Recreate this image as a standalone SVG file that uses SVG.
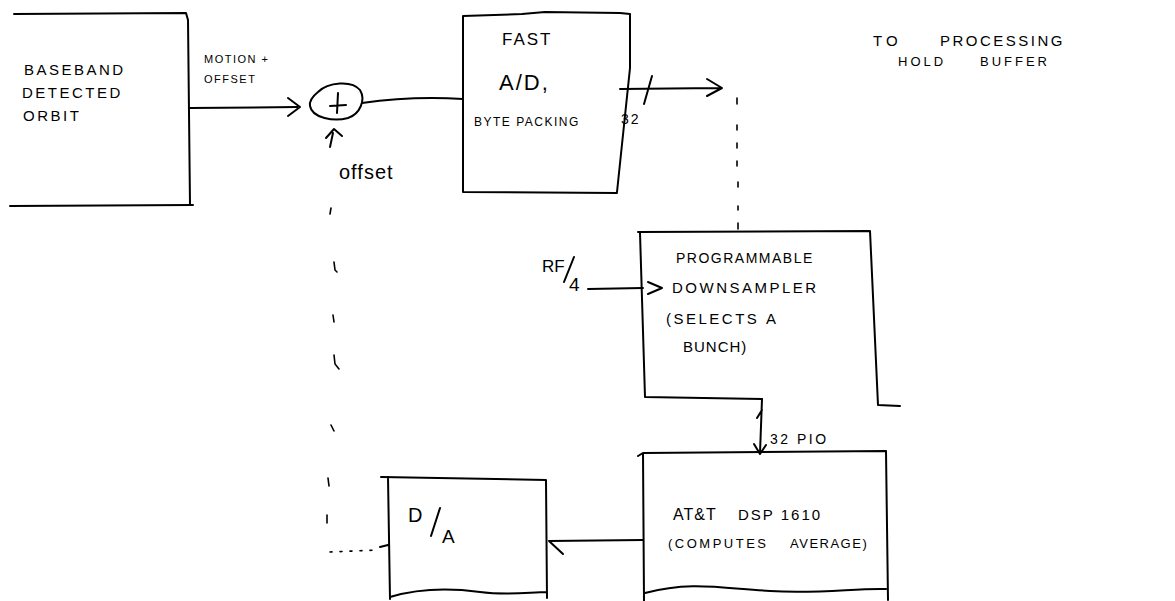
<svg xmlns="http://www.w3.org/2000/svg" width="1175" height="601" viewBox="0 0 1175 601">
<style>
.ln{fill:none;stroke:#000;stroke-width:2;stroke-linecap:round;stroke-linejoin:round}
.tk{fill:none;stroke:#000;stroke-width:1.6;stroke-linecap:round}
.t{font-family:"Liberation Sans",Arial,sans-serif;fill:#000;font-size:14px;letter-spacing:2px}
.s{font-size:11px;letter-spacing:1.5px}
</style>
<rect width="1175" height="601" fill="#fff"/>
<g id="baseband">
<path class="ln" d="M14,14 L186,13 L188,20 L190,205 M10,206 L193,205"/>
<text class="t" x="24" y="75" style="font-size:15px;letter-spacing:2.5px">BASEBAND</text>
<text class="t" x="22" y="98" style="font-size:15px;letter-spacing:2.5px">DETECTED</text>
<text class="t" x="23" y="121" style="font-size:15px;letter-spacing:2.5px">ORBIT</text>
</g>
<g id="sum">
<path class="ln" d="M318,92 C328,82 352,80 360,90 C366,100 360,114 348,118 C334,122 312,118 310,106 C309,100 313,96 318,92 Z"/>
<path class="ln" d="M338,93 L337,113 M330,106 L346,105"/>
<path class="ln" d="M326,138 L334,129 L342,136 M333,133 L330,147"/>
<text class="t" x="339" y="179" style="letter-spacing:1px;font-size:20px">offset</text>
</g>
<g id="fastad">
<path class="ln" d="M463,16 L522,14 L545,12 L620,13 L630,14 L630,68 L617,192 M463,16 L463,192 L617,193"/>
<text class="t" x="502" y="45" style="font-size:17px">FAST</text>
<text class="t" x="499" y="90" style="font-size:22px">A/D,</text>
<text class="t s" x="474" y="126" style="font-size:12px">BYTE PACKING</text>
</g>
<g id="downsampler">
<path class="ln" d="M638,232 L870,231 L878,405 L900,406 M640,233 L645,397 L762,399"/>
<text class="t" x="676" y="263" style="font-size:14px;letter-spacing:1.5px">PROGRAMMABLE</text>
<text class="t" x="672" y="293" style="font-size:15px;letter-spacing:2.5px">DOWNSAMPLER</text>
<text class="t" x="666" y="324" style="font-size:15px;letter-spacing:2.5px">(SELECTS</text>
<text class="t" x="766" y="324" style="font-size:15px;letter-spacing:2.5px">A</text>
<text class="t" x="683" y="352" style="font-size:15px;letter-spacing:1px">BUNCH)</text>
</g>
<g id="dsp">
<path class="ln" d="M638,456 L643,453 L886,451 L888,600 M643,453 L644,601 M645,593 C690,581 720,588 770,591 C820,594 855,588 886,589"/>
<text class="t" x="673" y="520" style="font-size:16px;letter-spacing:1px">AT&amp;T</text>
<text class="t" x="738" y="520" style="font-size:15px;letter-spacing:2px">DSP 1610</text>
<text class="t" x="668" y="548" style="font-size:13px;letter-spacing:2.5px">(COMPUTES</text>
<text class="t" x="790" y="548" style="font-size:13px;letter-spacing:1.5px">AVERAGE)</text>
</g>
<g id="da">
<path class="ln" d="M381,477 L546,480 L547,598 M388,477 L390,599 M388,545 L380,547 M390,597 C420,588 450,588 480,592 C510,596 530,592 547,592"/>
<text class="t" x="408" y="522" style="font-size:20px;letter-spacing:0">D</text>
<path class="ln" d="M431,536 L440,508"/>
<text class="t" x="442" y="543" style="font-size:19px;letter-spacing:0">A</text>
</g>
<g id="labels">
<text class="t s" x="204" y="63">MOTION +</text>
<text class="t s" x="204" y="83">OFFSET</text>
<text class="t" x="621" y="124" style="font-size:14px">32</text>
<text class="t" x="873" y="46" style="font-size:15px;letter-spacing:4px">TO</text>
<text class="t" x="940" y="46" style="font-size:15px;letter-spacing:2.5px">PROCESSING</text>
<text class="t" x="898" y="66" style="font-size:13px;letter-spacing:3px">HOLD</text>
<text class="t" x="980" y="66" style="font-size:13px;letter-spacing:3px">BUFFER</text>
<text class="t" x="542" y="272" style="font-size:17px;letter-spacing:0">RF</text>
<path class="ln" d="M564,282 L574,257"/>
<text class="t" x="569" y="291" style="font-size:19px;letter-spacing:0">4</text>
<text class="t" x="770" y="444" style="font-size:14px;letter-spacing:2.5px">32 PIO</text>
</g>
<g id="connectors">
<path class="ln" d="M190,108 L297,107 M288,98 L300,107 L288,116"/>
<path class="ln" d="M362,103 C390,99 430,97 463,99"/>
<path class="ln" d="M620,89 L720,88 M707,79 L722,88 L707,96 M644,104 L652,76"/>
<path class="tk" d="M737,98 l0,6 M737,125 l0,5 M737,143 l0,5 M737,161 l0,5 M738,182 l0,5 M738,206 l0,4 M738,223 l0,6"/>
<path class="ln" d="M588,289 L643,288 M648,282 L662,288 L648,294"/>
<path class="ln" d="M762,399 L760,453 M754,444 L760,454 L766,445 M762,410 L757,418"/>
<path class="ln" d="M643,540 L549,541 M549,541 L563,554"/>
<path class="tk" d="M331,208 l-1,6 M334,262 l1,8 L337,272 M333,315 l1,7 M334,355 l1,9 L339,369 M331,425 l3,6 M328,478 l1,8 M327,515 l0,8"/>
<path class="tk" d="M330,552 L378,550" style="stroke-dasharray:2 8"/>
</g>
</svg>
